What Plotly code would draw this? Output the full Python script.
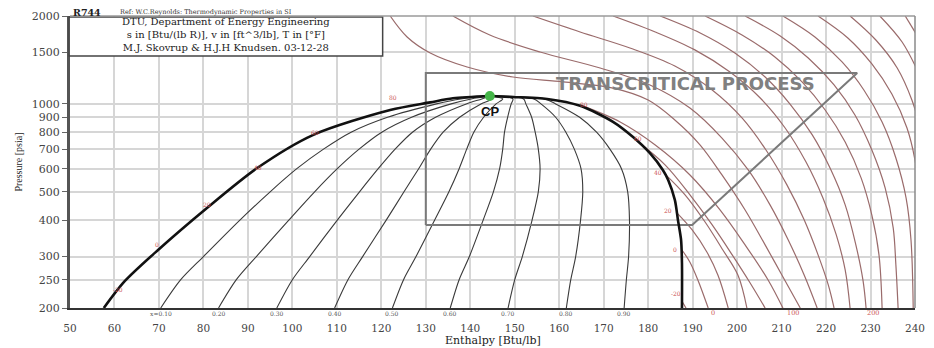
import math
import plotly.graph_objects as go

# ---------------- data (enthalpy Btu/lb, pressure psia) ----------------
X_TICKS = list(range(50, 250, 10))
Y_TICKS = [200, 250, 300, 400, 500, 600, 700, 800, 900, 1000, 1500, 2000]

SAT_LIQ_H = [57.6, 62.3, 69.8, 80.8, 92.1, 104.6, 122.0, 131.0, 136.1, 144.4]
SAT_LIQ_P = [200, 247, 316, 440, 603, 782, 953, 1012, 1045, 1064]
SAT_VAP_H = [144.4, 149.6, 157.3, 164.7, 172.1, 176.6, 180.4, 183.3, 184.5, 186.0, 186.7, 187.4, 187.6, 187.6]
SAT_VAP_P = [1064, 1056, 1040, 985, 868, 770, 678, 594, 549, 469, 400, 342, 285, 200]

CP_H = [144.4]
CP_P = [1064]

# quality lines (h at pressures Q_PRESS)
Q_PRESS = [200, 250, 300, 400, 500, 600, 700, 800, 900, 1000, 1040, 1064]
Q_LABELS = ["x=0.10", "0.20", "0.30", "0.40", "0.50", "0.60", "0.70", "0.80", "0.90"]
Q10_H = [70.4, 74.9, 80.0, 88.2, 95.0, 101.0, 107.0, 113.2, 121.4, 132.4, 137.9, 144.4]
Q20_H = [83.4, 87.4, 91.9, 99.2, 105.0, 110.1, 115.0, 120.1, 126.8, 135.7, 140.2, 144.4]
Q30_H = [96.5, 100.0, 103.9, 110.1, 115.1, 119.3, 123.1, 127.0, 132.2, 139.1, 142.6, 144.4]
Q40_H = [109.5, 112.5, 115.8, 121.1, 125.1, 128.4, 131.1, 133.9, 137.6, 142.4, 144.9, 144.4]
Q50_H = [122.5, 125.0, 127.8, 132.0, 135.2, 137.5, 139.2, 140.8, 143.0, 145.8, 147.3, 144.4]
Q60_H = [135.5, 137.5, 139.8, 142.9, 145.2, 146.6, 147.3, 147.7, 148.4, 149.2, 149.6, 144.4]
Q70_H = [148.5, 150.0, 151.7, 153.9, 155.3, 155.7, 155.3, 154.6, 153.8, 152.5, 152.0, 144.4]
Q80_H = [161.6, 162.6, 163.7, 164.8, 165.3, 164.9, 163.4, 161.5, 159.2, 155.9, 154.3, 144.4]
Q90_H = [174.6, 175.1, 175.6, 175.8, 175.4, 174.0, 171.4, 168.4, 164.6, 159.2, 156.7, 144.4]

# isotherms (deg F) in the vapour / supercritical region
T_M20_H = [187.6, 188.5]
T_M20_P = [211, 200]
T_0_H = [187.6, 189.4, 191.2, 193.5]
T_0_P = [316, 287, 249, 200]
T_20_H = [186.3, 189.9, 193.2, 195.7, 198.0]
T_20_P = [426, 370, 311, 259, 200]
T_40_H = [183.8, 188.3, 192.8, 196.8, 200.2, 202.2]
T_40_P = [575, 488, 394, 316, 259, 200]
T_60_H = [177.5, 183.8, 189.4, 194.4, 198.9, 202.9, 206.3]
T_60_P = [746, 618, 488, 385, 304, 244, 200]
T_80_H = [164.7, 173.7, 181.6, 189.4, 196.2, 201.8, 207.0, 210.3]
T_80_P = [992, 867, 723, 571, 433, 329, 249, 200]
T_100_H = [122.0, 125.8, 131.0, 139.3, 149.6, 160.9, 172.1, 180.0, 186.0, 191.7, 196.6, 201.8, 206.3, 210.1, 214.2]
T_100_P = [2000, 1695, 1494, 1338, 1236, 1189, 1133, 1031, 881, 723, 571, 433, 329, 259, 200]
T_120_H = [136.1, 144.4, 155.7, 169.2, 180.4, 189.4, 196.6, 202.5, 207.4, 211.5, 215.1, 218.0]
T_120_P = [2000, 1722, 1506, 1327, 1161, 968, 764, 594, 451, 342, 259, 200]
T_140_H = [154.1, 164.7, 175.9, 186.0, 194.4, 201.1, 206.5, 211.2, 215.1, 218.2, 220.5, 221.8]
T_140_P = [2000, 1763, 1554, 1348, 1116, 895, 695, 528, 400, 304, 240, 200]
T_160_H = [172.1, 181.6, 190.5, 198.4, 205.2, 210.8, 215.5, 219.3, 222.3, 224.3, 225.4]
T_160_P = [2000, 1763, 1531, 1286, 1048, 827, 632, 476, 356, 270, 200]
T_180_H = [182.7, 191.7, 199.5, 206.3, 211.9, 216.9, 220.9, 224.3, 226.7, 228.3, 229.0]
T_180_P = [2000, 1749, 1494, 1236, 999, 783, 603, 451, 329, 249, 200]
T_200_H = [192.8, 201.1, 208.5, 214.6, 219.8, 224.3, 227.9, 230.3, 231.9, 232.6]
T_200_P = [2000, 1722, 1448, 1189, 953, 741, 557, 416, 304, 200]
T_220_H = [201.8, 209.7, 216.0, 221.8, 226.5, 230.3, 233.3, 235.1, 235.7, 236.2]
T_220_P = [2000, 1708, 1436, 1161, 916, 695, 515, 376, 281, 200]
T_240_H = [210.3, 217.5, 223.6, 228.5, 232.6, 235.7, 238.0, 239.1, 239.6]
T_240_P = [2000, 1695, 1392, 1116, 867, 653, 476, 342, 200]
T_260_H = [218.2, 224.9, 230.3, 234.8, 238.2, 240.0, 241.1]
T_260_P = [2000, 1682, 1370, 1081, 827, 642, 469]
T_280_H = [225.4, 231.2, 236.0, 239.3, 241.6]
T_280_P = [2000, 1655, 1327, 1031, 783]
T_300_H = [232.1, 237.1, 240.7]
T_300_P = [2000, 1629, 1286]
T_320_H = [237.8, 241.1]
T_320_P = [2000, 1655]

# isotherm labels at the saturation curve
LIQ_LBL_TEXT = ["-20", "0", "20", "40", "60", "80"]
LIQ_LBL_H = [60.8, 69.6, 80.8, 92.3, 105.1, 122.6]
LIQ_LBL_P = [232, 329, 454, 608, 801, 1048]
VAP_LBL_TEXT = ["80", "60", "40", "20", "0", "-20"]
VAP_LBL_H = [165.6, 177.7, 182.2, 184.5, 186.0, 186.3]
VAP_LBL_P = [999, 764, 584, 433, 316, 225]
BOT_LBL_TEXT = ["0", "100", "200"]
BOT_LBL_H = [194.5, 212.5, 230.5]

# transcritical cycle
CYCLE_H = [130.0, 130.0, 227.0, 189.9, 130.0]
CYCLE_P = [385, 1276, 1276, 385, 385]

# ---------------- figure ----------------
fig = go.Figure()

ISO_COLOR = "#9a6b6b"
iso_sets = [
    (T_M20_H, T_M20_P), (T_0_H, T_0_P), (T_20_H, T_20_P), (T_40_H, T_40_P),
    (T_60_H, T_60_P), (T_80_H, T_80_P), (T_100_H, T_100_P), (T_120_H, T_120_P),
    (T_140_H, T_140_P), (T_160_H, T_160_P), (T_180_H, T_180_P), (T_200_H, T_200_P),
    (T_220_H, T_220_P), (T_240_H, T_240_P), (T_260_H, T_260_P), (T_280_H, T_280_P),
    (T_300_H, T_300_P), (T_320_H, T_320_P),
]
for hh, pp in iso_sets:
    fig.add_trace(go.Scatter(x=hh, y=pp, mode="lines",
                             line=dict(color=ISO_COLOR, width=1.2, shape="spline", smoothing=1.0),
                             hoverinfo="skip", showlegend=False))

q_sets = [Q10_H, Q20_H, Q30_H, Q40_H, Q50_H, Q60_H, Q70_H, Q80_H, Q90_H]
for qh in q_sets:
    fig.add_trace(go.Scatter(x=qh, y=Q_PRESS, mode="lines",
                             line=dict(color="#3a3a3a", width=1.1, shape="spline", smoothing=0.8),
                             hoverinfo="skip", showlegend=False))

# cycle
fig.add_trace(go.Scatter(x=CYCLE_H, y=CYCLE_P, mode="lines",
                         line=dict(color="#7a7a7a", width=2),
                         hoverinfo="skip", showlegend=False))

# saturation dome
fig.add_trace(go.Scatter(x=SAT_LIQ_H, y=SAT_LIQ_P, mode="lines",
                         line=dict(color="#111111", width=2.6, shape="spline", smoothing=0.8),
                         hoverinfo="skip", showlegend=False))
fig.add_trace(go.Scatter(x=SAT_VAP_H, y=SAT_VAP_P, mode="lines",
                         line=dict(color="#111111", width=2.6, shape="spline", smoothing=0.8),
                         hoverinfo="skip", showlegend=False))

# critical point
fig.add_trace(go.Scatter(x=CP_H, y=CP_P, mode="markers",
                         marker=dict(color="#45b549", size=10),
                         hoverinfo="skip", showlegend=False))

L = math.log10
ann = []
# CP label
ann.append(dict(x=CP_H[0], y=L(CP_P[0]), xref="x", yref="y", text="<b>CP</b>", showarrow=False,
                xanchor="center", yanchor="middle",
                yshift=-15, font=dict(family="Liberation Sans", size=13, color="#111")))
# transcritical process label
ann.append(dict(x=(CYCLE_H[1] + CYCLE_H[2]) / 2 + 10, y=L(CYCLE_P[1]), xref="x", yref="y",
                text="<b>TRANSCRITICAL PROCESS</b>", showarrow=False, yshift=-11,
                xanchor="center", yanchor="middle",
                font=dict(family="DejaVu Sans", size=18, color="#808080")))
# quality labels (just below the axis)
for lbl, qh in zip(Q_LABELS, q_sets):
    ann.append(dict(x=qh[0], y=0, xref="x", yref="paper", text=lbl, showarrow=False,
                    xanchor="center", yanchor="middle", yshift=-5, borderpad=0,
                    font=dict(family="DejaVu Serif", size=6, color="#555")))
# isotherm labels
for t, hh, pp in zip(LIQ_LBL_TEXT, LIQ_LBL_H, LIQ_LBL_P):
    ann.append(dict(x=hh, y=L(pp), xref="x", yref="y", text=t, showarrow=False,
                    xanchor="center", yanchor="middle",
                    font=dict(family="DejaVu Serif", size=6, color="#cc5555")))
for t, hh, pp in zip(VAP_LBL_TEXT, VAP_LBL_H, VAP_LBL_P):
    ann.append(dict(x=hh, y=L(pp), xref="x", yref="y", text=t, showarrow=False,
                    xanchor="center", yanchor="middle",
                    font=dict(family="DejaVu Serif", size=6, color="#cc5555")))
for t, hh in zip(BOT_LBL_TEXT, BOT_LBL_H):
    ann.append(dict(x=hh, y=0, xref="x", yref="paper", text=t, showarrow=False,
                    xanchor="center", yanchor="middle", yshift=-5, borderpad=0,
                    font=dict(family="DejaVu Serif", size=6.5, color="#cc5555")))

# header texts
ann.append(dict(x=0.002, y=1.013, xref="paper", yref="paper", xanchor="left", yanchor="middle",
                text="<b>R744</b>", showarrow=False, borderpad=0,
                font=dict(family="DejaVu Serif", size=9.5, color="#222")))
ann.append(dict(x=0.058, y=1.012, xref="paper", yref="paper", xanchor="left", yanchor="middle",
                text="Ref: W.C.Reynolds: Thermodynamic Properties in SI", showarrow=False,
                borderpad=0, font=dict(family="DejaVu Serif", size=6.5, color="#333")))
ann.append(dict(x=0.185, y=0.935, xref="paper", yref="paper",
                xanchor="center", yanchor="middle",
                text=("DTU, Department of Energy Engineering<br>"
                      "s in [Btu/(lb R)], v in [ft^3/lb], T in [°F]<br>"
                      "M.J. Skovrup &amp; H.J.H Knudsen. 03-12-28"),
                showarrow=False, borderpad=0,
                font=dict(family="DejaVu Serif", size=10, color="#222")))
# axis titles
ann.append(dict(x=-0.062, y=0.5, xref="paper", yref="paper", text="Pressure [psia]",
                textangle=-90, showarrow=False, xanchor="center", yanchor="middle",
                font=dict(family="Liberation Serif", size=10, color="#222")))
ann.append(dict(x=0.5, y=-0.113, xref="paper", yref="paper", text="Enthalpy [Btu/lb]",
                showarrow=False, borderpad=0, xanchor="center", yanchor="middle",
                font=dict(family="DejaVu Serif", size=11, color="#222")))

shapes = [
    dict(type="rect", xref="paper", yref="paper", x0=-0.001, x1=0.370, y0=0.863, y1=0.997,
         line=dict(color="#444", width=1.5), fillcolor="white", layer="above"),
    dict(type="line", xref="paper", yref="paper", x0=0, x1=1, y0=1, y1=1,
         line=dict(color="#9a9a9a", width=1.5)),
    dict(type="line", xref="paper", yref="paper", x0=1, x1=1, y0=0, y1=1,
         line=dict(color="#8a8a8a", width=1.5)),
]

# the page body adds an 8px offset; size the figure so the plot area lands in place
fig.update_layout(
    width=926, height=340,
    margin=dict(l=62, r=19, t=8, b=40),
    paper_bgcolor="white", plot_bgcolor="white",
    annotations=ann, shapes=shapes,
    showlegend=False,
)
fig.update_xaxes(range=[50, 240], tickvals=X_TICKS, ticktext=[str(v) for v in X_TICKS],
                 showgrid=True, gridcolor="#d6d6d6", gridwidth=2, automargin=False,
                 showline=True, linecolor="#333", linewidth=2, zeroline=False,
                 ticks="", ticklabelstandoff=9,
                 tickfont=dict(family="DejaVu Serif", size=10.5, color="#444"))
fig.update_yaxes(type="log", range=[2.30103, 3.30103], tickvals=Y_TICKS,
                 ticktext=[str(v) for v in Y_TICKS], automargin=False,
                 showgrid=True, gridcolor="#d6d6d6", gridwidth=2,
                 showline=True, linecolor="#555", linewidth=3, zeroline=False,
                 ticks="outside", ticklen=5, tickcolor="#666",
                 tickfont=dict(family="DejaVu Serif", size=11, color="#444"))

fig.write_html("out.html")
